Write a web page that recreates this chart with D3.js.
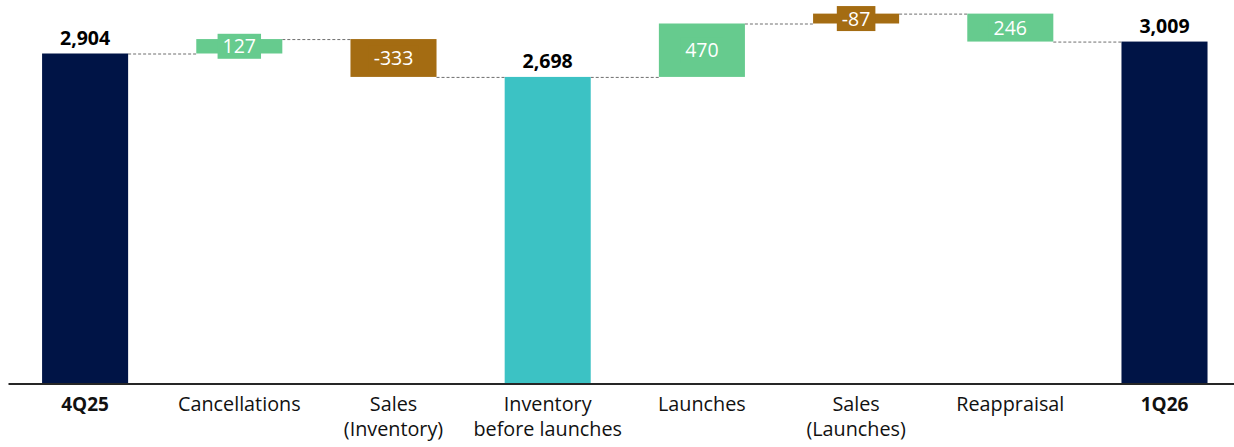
<!DOCTYPE html>
<html>
<head>
<meta charset="utf-8">
<script src="https://cdn.jsdelivr.net/npm/d3@7"></script>
<style>
  html, body { margin: 0; padding: 0; background: #ffffff; }
  svg { display: block; }
</style>
</head>
<body>
<svg id="chart" width="1234" height="447"></svg>
<script>
// ---- data ----
const categories = ["4Q25", "Cancellations", "Sales (Inventory)", "Inventory before launches", "Launches", "Sales (Launches)", "Reappraisal", "1Q26"];
const categoryLines = [["4Q25"], ["Cancellations"], ["Sales", "(Inventory)"], ["Inventory", "before launches"], ["Launches"], ["Sales", "(Launches)"], ["Reappraisal"], ["1Q26"]];
const values = [2904, 127, -333, 2698, 470, -87, 246, 3009];
const kinds = ["total", "delta", "delta", "subtotal", "delta", "delta", "delta", "total"];
// running level after each step, as drawn in the reference
const levels = [2904, 3031, 2698, 2698, 3168, 3255, 3009, 3009];

const colors = { total: "#001446", subtotal: "#3CC2C4", up: "#66CB8E", down: "#A46C12" };

const svg = d3.select("#chart");
const fontFamily = "'Open Sans', Lato, sans-serif";

const x = d3.scaleBand()
  .domain(categories)
  .range([8, 1241.6])
  .paddingInner(0.442)
  .paddingOuter(0.221);

const y = d3.scaleLinear().domain([0, 3300]).range([383.5, 8.5]);

const bw = x.bandwidth();
const fmt0 = d3.format(",");
const fmt = v => (v < 0 ? "-" : "") + fmt0(Math.abs(v));

const bars = categories.map((c, i) => {
  let y0, y1;
  if (kinds[i] === "delta") { y0 = levels[i - 1]; y1 = levels[i]; }
  else { y0 = 0; y1 = values[i]; }
  let color = kinds[i] === "total" ? colors.total : kinds[i] === "subtotal" ? colors.subtotal : (values[i] >= 0 ? colors.up : colors.down);
  return { c, i, lo: Math.min(y0, y1), hi: Math.max(y0, y1), color, kind: kinds[i], v: values[i] };
});

// connectors
const conn = svg.append("g");
for (let i = 0; i < categories.length - 1; i++) {
  conn.append("line")
    .attr("x1", x(categories[i]) + bw)
    .attr("x2", x(categories[i + 1]))
    .attr("y1", y(levels[i]) + 0.5)
    .attr("y2", y(levels[i]) + 0.5)
    .attr("stroke", "#6e6e6e")
    .attr("stroke-width", 1)
    .attr("stroke-dasharray", "3,2");
}

// bars
svg.append("g").selectAll("rect").data(bars).join("rect")
  .attr("x", d => x(d.c))
  .attr("width", bw)
  .attr("y", d => y(d.hi))
  .attr("height", d => y(d.lo) - y(d.hi))
  .attr("fill", d => d.color);

// axis
const axis = svg.append("g")
  .attr("transform", `translate(0,${y(0)})`)
  .call(d3.axisBottom(x).tickSize(0).tickFormat(""));
axis.select(".domain").attr("stroke", "#262626").attr("stroke-width", 2);

// category labels
const lab = svg.append("g");
categories.forEach((c, i) => {
  const t = lab.append("text")
    .attr("x", x(c) + bw / 2)
    .attr("y", 411)
    .attr("text-anchor", "middle")
    .attr("font-family", fontFamily)
    .attr("font-size", kinds[i] === "total" ? 19 : 19.8)
    .attr("font-weight", kinds[i] === "total" ? "bold" : "normal")
    .attr("fill", "#111");
  categoryLines[i].forEach((line, k) => {
    t.append("tspan").attr("x", x(c) + bw / 2).attr("dy", k === 0 ? 0 : 24.5).text(line);
  });
});

// value labels
const vl = svg.append("g");
bars.forEach(d => {
  const cx = x(d.c) + bw / 2;
  if (d.kind !== "delta") {
    vl.append("text")
      .attr("x", cx)
      .attr("y", y(d.hi) - 9)
      .attr("text-anchor", "middle")
      .attr("font-family", fontFamily)
      .attr("font-size", 19.5)
      .attr("font-weight", "bold")
      .attr("fill", "#000")
      .text(fmt(d.v));
  } else {
    const cy = (y(d.hi) + y(d.lo)) / 2;
    const g = vl.append("g");
    const rect = g.append("rect").attr("fill", d.color);
    const t = g.append("text")
      .attr("x", cx)
      .attr("y", cy)
      .attr("dy", "0.36em")
      .attr("text-anchor", "middle")
      .attr("font-family", fontFamily)
      .attr("font-size", 19.5)
      .attr("fill", "#ffffff")
      .text(fmt(d.v));
    const w = t.node().getComputedTextLength();
    rect.attr("x", cx - w / 2 - 5).attr("width", w + 10)
      .attr("y", cy - 12.5).attr("height", 25);
  }
});
</script>
</body>
</html>
